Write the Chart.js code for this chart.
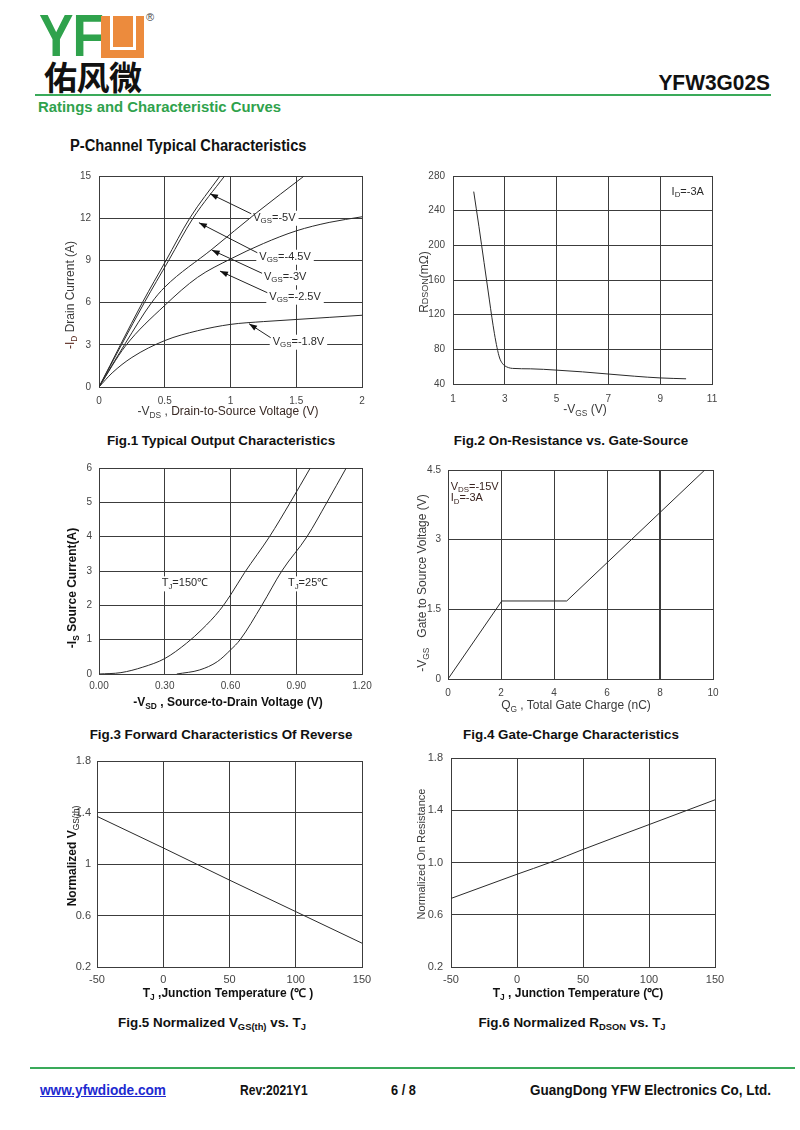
<!DOCTYPE html>
<html>
<head>
<meta charset="utf-8">
<script src="https://cdn.jsdelivr.net/npm/chart.js@4.4.1/dist/chart.umd.min.js"></script>
<style>
  body { margin: 0; background: #fff; }
  #page { position: relative; width: 800px; height: 1130px; overflow: hidden; font-family: 'Liberation Sans', Arial, sans-serif; color: #222; }
  .abs { position: absolute; white-space: nowrap; line-height: 1; }
  canvas { position: absolute; }
  sub { font-size: 70%; vertical-align: -0.3em; line-height: 0; }
  .narrow { transform-origin: left top; transform: scaleX(0.93); }
  .cap { font-weight: bold; font-size: 13.4px; color: #111; transform: translateX(-50%); }
  .xt { transform: translateX(-50%); font-size: 12px; }
  .yt { transform: translate(-50%, -50%) rotate(-90deg); font-size: 12px; }
  .b { font-weight: bold; color: #111; }
  .g { color: #3a3a3a; }
</style>
</head>
<body>
<div id="page">
  <!-- header -->
  <div class="abs" style="left:39px;top:6px;font-size:60px;font-weight:bold;color:#2fa24c;letter-spacing:-1px;transform-origin:left top;transform:scaleX(0.86)">YF</div>
  <div class="abs" style="left:101px;top:16px;width:43px;height:42px;background:#ec8b3d">
    <div style="position:absolute;left:9px;top:0;width:20px;height:31px;border:3px solid #fff;border-top:none"></div>
  </div>
  <div class="abs" style="left:146px;top:12px;font-size:11px;color:#444">®</div>
  <div class="abs" style="left:44px;top:60px;font-size:33px;font-weight:bold;color:#111;font-family:'Noto Sans CJK SC',sans-serif;letter-spacing:-0.5px">佑风微</div>
  <div class="abs" style="right:30px;top:72px;font-size:22.5px;font-weight:bold;color:#111;transform:scaleX(0.93);transform-origin:right top">YFW3G02S</div>
  <div class="abs" style="left:35px;top:94px;width:736px;height:2px;background:#3aaa5a"></div>
  <div class="abs narrow" style="left:38px;top:99px;font-size:15.5px;font-weight:bold;color:#2fa24c;transform:scaleX(0.96)">Ratings and Characteristic Curves</div>
  <div class="abs narrow" style="left:70px;top:138px;font-size:15.8px;font-weight:bold;color:#111">P-Channel Typical Characteristics</div>

  <canvas id="fig1"></canvas>
  <canvas id="fig2"></canvas>
  <canvas id="fig3"></canvas>
  <canvas id="fig4"></canvas>
  <canvas id="fig5"></canvas>
  <canvas id="fig6"></canvas>

  <!-- axis titles -->
  <div class="abs yt g" style="left:70px;top:295px"><span style="color:#5a2a20">-I<sub>D</sub></span> Drain Current (A)</div>
  <div class="abs xt g" style="left:228px;top:405px">-V<sub>DS</sub> , <span style="color:#3a2a25">Drain-to-Source Voltage (V)</span></div>
  <div class="abs yt g" style="left:424px;top:282px">R<span style="font-size:9px">DSON</span>(mΩ)</div>
  <div class="abs xt g" style="left:585px;top:403px">-V<sub>GS</sub> (V)</div>

  <div class="abs yt b" style="left:72px;top:588px">-I<sub>S</sub> Source Current(A)</div>
  <div class="abs xt b" style="left:228px;top:696px">-V<sub>SD</sub> , Source-to-Drain Voltage (V)</div>
  <div class="abs yt g" style="left:422px;top:583px">-V<sub>GS</sub>&nbsp;&nbsp; Gate to Source Voltage (V)</div>
  <div class="abs xt g" style="left:576px;top:699px">Q<sub>G</sub> , Total Gate Charge (nC)</div>

  <div class="abs yt b" style="left:72px;top:856px">Normalized V<sub style="font-weight:normal">GS(th)</sub></div>
  <div class="abs xt b" style="left:228px;top:987px">T<sub>J</sub> ,Junction Temperature (℃ )</div>
  <div class="abs yt g" style="left:421px;top:854px;font-size:11px">Normalized On Resistance</div>
  <div class="abs xt b" style="left:578px;top:987px">T<sub>J</sub> , Junction Temperature (℃)</div>

  <!-- captions -->
  <div class="abs cap" style="left:221px;top:434px">Fig.1 Typical Output Characteristics</div>
  <div class="abs cap" style="left:571px;top:434px">Fig.2 On-Resistance vs. Gate-Source</div>
  <div class="abs cap" style="left:221px;top:728px">Fig.3 Forward Characteristics Of Reverse</div>
  <div class="abs cap" style="left:571px;top:728px">Fig.4 Gate-Charge Characteristics</div>
  <div class="abs cap" style="left:212px;top:1016px">Fig.5 Normalized V<sub>GS(th)</sub> vs. T<sub>J</sub></div>
  <div class="abs cap" style="left:572px;top:1016px">Fig.6 Normalized R<sub>DSON</sub> vs. T<sub>J</sub></div>

  <!-- footer -->
  <div class="abs" style="left:30px;top:1067px;width:765px;height:2px;background:#3aaa5a"></div>
  <div class="abs narrow" style="left:40px;top:1083px;font-size:14.5px;font-weight:bold;color:#1d2ad0;text-decoration:underline;transform:scaleX(0.94)">www.yfwdiode.com</div>
  <div class="abs narrow" style="left:240px;top:1083px;font-size:14.5px;font-weight:bold;color:#111;transform:scaleX(0.83)">Rev:2021Y1</div>
  <div class="abs narrow" style="left:391px;top:1083px;font-size:14.5px;font-weight:bold;color:#111;transform:scaleX(0.88)">6 / 8</div>
  <div class="abs narrow" style="left:530px;top:1083px;font-size:14.5px;font-weight:bold;color:#111;transform:scaleX(0.93)">GuangDong YFW Electronics Co, Ltd.</div>
</div>

<script>
// Fig.1 output characteristics, [-Vds (V), -Id (A)]
const vgs50 = [[0, 0], [0.33, 6], [0.51, 9], [0.69, 12], [0.92, 15]]
const vgs45 = [[0, 0], [0.345, 6], [0.53, 9], [0.715, 12], [0.955, 15]]
const vgs30 = [[0, 0], [0.2, 3.1], [0.4, 6], [0.5, 7.1], [0.86, 9.8], [1.2, 12.4], [1.56, 15]]
const vgs25 = [[0, 0], [0.2, 2.9], [0.5, 5.8], [0.75, 7.8], [1.0, 9.1], [1.25, 10.2], [1.5, 11.1], [1.75, 11.7], [2.0, 12.1]]
const vgs18 = [[0, 0], [0.1, 1.0], [0.25, 2.1], [0.5, 3.3], [0.75, 4.0], [1.0, 4.45], [1.25, 4.65], [1.5, 4.8], [1.75, 4.95], [2.0, 5.1]]

// Fig.2 Rdson vs -Vgs, [V, mOhm]
const rdsonVgs = [[1.8, 262], [2.0, 222], [2.2, 180], [2.4, 138], [2.5, 117], [2.6, 98], [2.7, 82], [2.8, 70], [2.9, 64],
  [3.0, 61], [3.3, 58], [4, 57.5], [5, 56], [6, 54], [7, 51.5], [8, 49], [9, 47], [10, 46]]

// Fig.3 body diode forward, [-Vsd (V), -Is (A)]
const tj150 = [[0, 0], [0.1, 0.04], [0.2, 0.2], [0.3, 0.45], [0.4, 0.9], [0.47, 1.3], [0.55, 1.85], [0.6, 2.3],
  [0.664, 2.95], [0.778, 4], [0.873, 5], [0.964, 6]]
const tj25 = [[0.355, 0], [0.46, 0.12], [0.54, 0.36], [0.6, 0.7], [0.644, 1], [0.743, 2], [0.834, 3],
  [0.949, 4], [1.04, 5], [1.128, 6]]

// Fig.4 gate charge, [Qg (nC), -Vgs (V)]
const gateCharge = [[0, 0], [2.03, 1.68], [4.48, 1.68], [9.69, 4.5]]

// Fig.5 / Fig.6 vs junction temperature
const vthTj = [[-50, 1.37], [0, 1.125], [25, 1.0], [50, 0.875], [100, 0.63], [150, 0.385]]
const rdsonTj = [[-50, 0.725], [0, 0.91], [25, 1.0], [50, 1.1], [100, 1.29], [150, 1.48]]

const FONT = "'Liberation Sans', Arial, sans-serif"
const GRID = '#3c3c3c'
const LINE = '#2a2a2a'
const TICK = '#444'

function pts(arr) { return arr.map(([x, y]) => ({ x, y })) }

function richWidth(ctx, parts, size) {
  let w = 0
  for (const [t, sub] of parts) {
    ctx.font = `${sub ? size * 0.72 : size}px ${FONT}`
    w += ctx.measureText(t).width
  }
  return w
}

function drawRich(ctx, parts, x, y, size, color) {
  ctx.fillStyle = color
  ctx.textBaseline = 'middle'
  ctx.textAlign = 'left'
  for (const [t, sub] of parts) {
    ctx.font = `${sub ? size * 0.72 : size}px ${FONT}`
    ctx.fillText(t, x, sub ? y + 3 : y)
    x += ctx.measureText(t).width
  }
}

function arrow(ctx, x0, y0, x1, y1) {
  const a = Math.atan2(y1 - y0, x1 - x0)
  ctx.strokeStyle = '#222'
  ctx.lineWidth = 1
  ctx.beginPath(); ctx.moveTo(x0, y0); ctx.lineTo(x1, y1); ctx.stroke()
  ctx.fillStyle = '#111'
  ctx.beginPath()
  ctx.moveTo(x1, y1)
  ctx.lineTo(x1 - 8 * Math.cos(a) + 2.8 * Math.sin(a), y1 - 8 * Math.sin(a) - 2.8 * Math.cos(a))
  ctx.lineTo(x1 - 8 * Math.cos(a) - 2.8 * Math.sin(a), y1 - 8 * Math.sin(a) + 2.8 * Math.cos(a))
  ctx.closePath(); ctx.fill()
}

// labels in data coordinates; box = white patch behind text
function calloutPlugin(items) {
  return {
    id: 'callouts',
    beforeDatasetsDraw(chart) {
      const { ctx, scales: { x, y } } = chart
      ctx.save()
      for (const it of items) {
        if (!it.box) continue
        const px = x.getPixelForValue(it.at[0]), py = y.getPixelForValue(it.at[1])
        ctx.fillStyle = '#fff'
        ctx.fillRect(px - 3, py - 7, richWidth(ctx, it.parts, it.size) + 6, 15)
      }
      ctx.restore()
    },
    afterDatasetsDraw(chart) {
      const { ctx, scales: { x, y } } = chart
      ctx.save()
      for (const it of items) {
        const px = x.getPixelForValue(it.at[0]), py = y.getPixelForValue(it.at[1])
        drawRich(ctx, it.parts, px, py, it.size, it.color || '#2a2a2a')
        if (it.tip) arrow(ctx, px - 2, py - 4, x.getPixelForValue(it.tip[0]), y.getPixelForValue(it.tip[1]))
      }
      ctx.restore()
    }
  }
}

function makeChart(id, box, c) {
  const padL = 60, padT = 12, padR = 24, padB = 30
  const cv = document.getElementById(id)
  cv.width = box.w + padL + padR
  cv.height = box.h + padT + padB
  cv.style.left = (box.l - padL) + 'px'
  cv.style.top = (box.t - padT) + 'px'
  const font = { family: FONT, size: c.tickSize || 10 }
  const axis = (min, max, step, pad, fmt) => ({
    type: 'linear', min, max,
    ticks: { stepSize: step, font, color: TICK, padding: pad, callback: fmt || (v => v) },
    grid: { color: GRID, lineWidth: 1, drawTicks: false },
    border: { display: true, color: GRID, width: 1 },
  })
  const x = axis(c.x[0], c.x[1], c.x[2], c.x[3], c.x[4])
  const y = axis(c.y[0], c.y[1], c.y[2], c.y[3], c.y[4])
  x.afterFit = s => { s.height = padB; s.paddingLeft = 0; s.paddingRight = 0 }
  y.afterFit = s => { s.width = padL; s.paddingTop = 0; s.paddingBottom = 0 }
  if (c.gridWidth) x.grid.lineWidth = c.gridWidth
  return new Chart(cv, {
    type: 'scatter',
    data: {
      datasets: c.series.map(s => ({
        data: pts(s),
        showLine: true,
        borderColor: LINE,
        borderWidth: 1,
        pointRadius: 0,
        cubicInterpolationMode: c.straight ? 'default' : 'monotone',
        tension: 0,
      })),
    },
    options: {
      responsive: false,
      animation: false,
      devicePixelRatio: 1,
      layout: { padding: { left: 0, top: padT, right: padR, bottom: 0 } },
      plugins: { legend: { display: false }, tooltip: { enabled: false } },
      scales: { x, y },
    },
    plugins: [calloutPlugin(c.callouts || [])],
  })
}

const vgsLabel = v => [['V'], ['GS', 1], ['=' + v]]

makeChart('fig1', { l: 99, t: 176, w: 263, h: 211 }, {
  x: [0, 2, 0.5, 8], y: [0, 15, 3, 8],
  series: [vgs50, vgs45, vgs30, vgs25, vgs18],
  callouts: [
    { at: [1.173, 12.03], tip: [0.844, 13.74], parts: vgsLabel('-5V'), size: 11, box: true },
    { at: [1.219, 9.26], tip: [0.76, 11.68], parts: vgsLabel('-4.5V'), size: 11, box: true },
    { at: [1.255, 7.8], tip: [0.857, 9.74], parts: vgsLabel('-3V'), size: 11, box: true },
    { at: [1.295, 6.42], tip: [0.92, 8.24], parts: vgsLabel('-2.5V'), size: 11, box: true },
    { at: [1.321, 3.22], tip: [1.141, 4.5], parts: vgsLabel('-1.8V'), size: 11, box: true },
  ],
})

makeChart('fig2', { l: 453, t: 176, w: 259, h: 208 }, {
  x: [1, 11, 2, 9], y: [40, 280, 40, 8],
  series: [rdsonVgs],
  callouts: [{ at: [9.44, 261.9], parts: [['I'], ['D', 1], ['=-3A']], size: 11 }],
})

makeChart('fig3', { l: 99, t: 468, w: 263, h: 206 }, {
  x: [0, 1.2, 0.3, 6, v => v.toFixed(2)], y: [0, 6, 1, 7],
  series: [tj150, tj25],
  callouts: [
    { at: [0.286, 2.64], parts: [['T'], ['J', 1], ['=150℃']], size: 11, box: true },
    { at: [0.862, 2.64], parts: [['T'], ['J', 1], ['=25℃']], size: 11, box: true },
  ],
})

makeChart('fig4', { l: 448, t: 470, w: 265, h: 209 }, {
  x: [0, 10, 2, 8], y: [0, 4.5, 1.5, 7],
  series: [gateCharge],
  straight: true,
  gridWidth: ctx => (ctx.tick && ctx.tick.value === 8 ? 2 : 1),
  callouts: [
    { at: [0.1, 4.14], parts: [['V'], ['DS', 1], ['=-15V']], size: 11, color: '#3a2420' },
    { at: [0.1, 3.89], parts: [['I'], ['D', 1], ['=-3A']], size: 11, color: '#3a2420' },
  ],
})

makeChart('fig5', { l: 97, t: 761, w: 265, h: 206 }, {
  tickSize: 11,
  x: [-50, 150, 50, 6], y: [0.2, 1.8, 0.4, 6, v => +v.toFixed(1)],
  series: [vthTj],
  straight: true,
})

makeChart('fig6', { l: 451, t: 758, w: 264, h: 209 }, {
  tickSize: 11,
  x: [-50, 150, 50, 6], y: [0.2, 1.8, 0.4, 8, v => v.toFixed(1)],
  series: [rdsonTj],
})
</script>
</body>
</html>
